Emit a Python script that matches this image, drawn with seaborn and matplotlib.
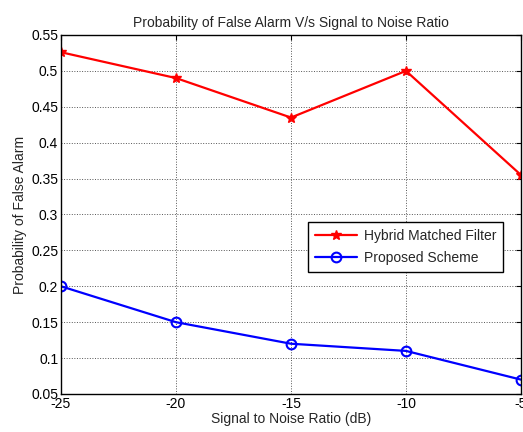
import matplotlib
matplotlib.use("Agg")
import matplotlib.pyplot as plt
import seaborn as sns
import pandas as pd

snr = [-25, -20, -15, -10, -5]
hybrid = [0.526, 0.49, 0.435, 0.5, 0.355]
proposed = [0.2, 0.15, 0.12, 0.11, 0.07]
xticks = [-25, -20, -15, -10, -5]
yticks = [0.05, 0.1, 0.15, 0.2, 0.25, 0.3, 0.35, 0.4, 0.45, 0.5, 0.55]

sns.set_style("white")
plt.rcParams['font.family'] = ['Liberation Sans', 'DejaVu Sans']

df = pd.DataFrame({"snr": snr * 2, "pfa": hybrid + proposed,
                   "series": ["Hybrid Matched Filter"] * 5 + ["Proposed Scheme"] * 5})

fig = plt.figure(figsize=(5.23, 4.32), dpi=100)
ax = fig.add_axes([0.1166, 0.088, 0.8795, 0.831])

sns.lineplot(data=df[df.series == "Hybrid Matched Filter"], x="snr", y="pfa", ax=ax,
             color="#ff0000", marker="*", markersize=7, linewidth=1.6,
             markerfacecolor="#ff0000", markeredgecolor="#ff0000", markeredgewidth=1.0,
             label="Hybrid Matched Filter")
sns.lineplot(data=df[df.series == "Proposed Scheme"], x="snr", y="pfa", ax=ax,
             color="#0000ff", marker="o", markersize=7, linewidth=1.6,
             markerfacecolor="none", markeredgecolor="#0000ff", markeredgewidth=1.5,
             label="Proposed Scheme")

ax.set_xlim(-25, -5)
ax.set_ylim(0.05, 0.55)
ax.set_xticks(xticks)
ax.set_yticks(yticks)
ax.set_xticklabels([str(t) for t in xticks])
ax.set_yticklabels([f"{t:g}" for t in yticks])
ax.tick_params(direction="in", length=3.5, labelsize=10, colors="black", pad=2)
ax.tick_params(top=True, right=True)
ax.grid(True, linestyle=":", color="#555555", linewidth=0.7)
for s in ax.spines.values():
    s.set_color("black")
    s.set_linewidth(1.0)
ax.set_xlabel("Signal to Noise Ratio (dB)", fontsize=10, labelpad=1)
ax.set_ylabel("Probability of False Alarm", fontsize=10, labelpad=3)
ax.set_title("Probability of False Alarm V/s Signal to Noise Ratio", fontsize=10, pad=6)

leg = ax.legend(loc="upper left", bbox_to_anchor=(0.538, 0.479), fontsize=10,
                frameon=True, fancybox=False, edgecolor="black", framealpha=1,
                borderpad=0.5, handlelength=3.0, handletextpad=0.5, labelspacing=0.55,
                borderaxespad=0)
leg.get_frame().set_linewidth(1.0)

fig.savefig("out.png", dpi=100)
